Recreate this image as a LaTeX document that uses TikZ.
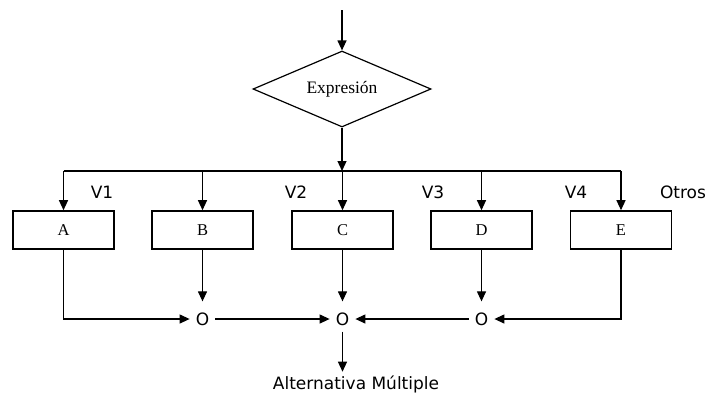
\documentclass[tikz,border=0pt]{standalone}
\usepackage{fontspec}
\setmainfont{Liberation Serif}
\newfontfamily\sansv{DejaVu Sans}
\usetikzlibrary{shapes.geometric,arrows.meta}

\tikzset{
	linea/.style={line width=1.2pt},
	flecha/.style={linea, -{Triangle[length=10pt,width=9pt]}},
	caja/.style={draw, line width=1.6pt, minimum width=101pt, minimum height=38pt, inner sep=0pt, font=\fontsize{16.5}{16.5}\selectfont},
	valor/.style={font=\sansv\fontsize{17}{17}\selectfont, inner sep=0pt},
	union/.style={valor, inner xsep=6pt, inner ysep=6pt},
}

\begin{document}
\begin{tikzpicture}[x=1pt,y=-1pt]
	\useasboundingbox (0,0) rectangle (711,392);

	% Expresion
	\coordinate (entrada) at (342,10);
	\node [diamond, draw, line width=1.2pt, aspect=2.34, minimum width=178pt, minimum height=76pt, inner sep=0pt, font=\fontsize{17.5}{17.5}\selectfont] (expr) at (342,89) {Expresión};
	\coordinate (bus) at (342,171);
	\draw [flecha] (entrada) -- (expr.north);
	\draw [flecha] (expr.south) -- (bus);

	% Casos
	\node [caja] (A) at (63.5,230) {A};
	\node [caja] (B) at (202.5,230) {B};
	\node [caja] (C) at (342.5,230) {C};
	\node [caja] (D) at (481.5,230) {D};
	\node [caja] (E) at (621,230) {E};
	\draw [linea] (A.north |- bus) -- (E.north |- bus);
	\foreach \c in {A,B,C,D,E}
		\draw [flecha] (\c.north |- bus) -- (\c.north);

	% Valores
	\node [valor] (v1) at (102,192) {V1};
	\node [valor] (v2) at (296,192) {V2};
	\node [valor] (v3) at (433,192) {V3};
	\node [valor] (v4) at (576,192) {V4};
	\node [valor] (otros) at (683,192) {Otros};

	% Uniones
	\node [union] (o1) at (202.5,319) {O};
	\node [union] (o2) at (342.5,319) {O};
	\node [union] (o3) at (481.5,319) {O};
	\node [valor, anchor=base, inner sep=3.5pt] (salida) at (356,389) {Alternativa Múltiple};

	\draw [flecha, shorten >=5pt] (B) -- (o1);
	\draw [flecha, shorten >=5pt] (C) -- (o2);
	\draw [flecha, shorten >=5pt] (D) -- (o3);
	\draw [flecha] (A.south) |- (o1);
	\draw [flecha] (E.south) |- (o3);
	\draw [flecha] (o1) -- (o2);
	\draw [flecha] (o3) -- (o2);
	\draw [flecha] (o2) -- (o2 |- salida.north);
\end{tikzpicture}
\end{document}
